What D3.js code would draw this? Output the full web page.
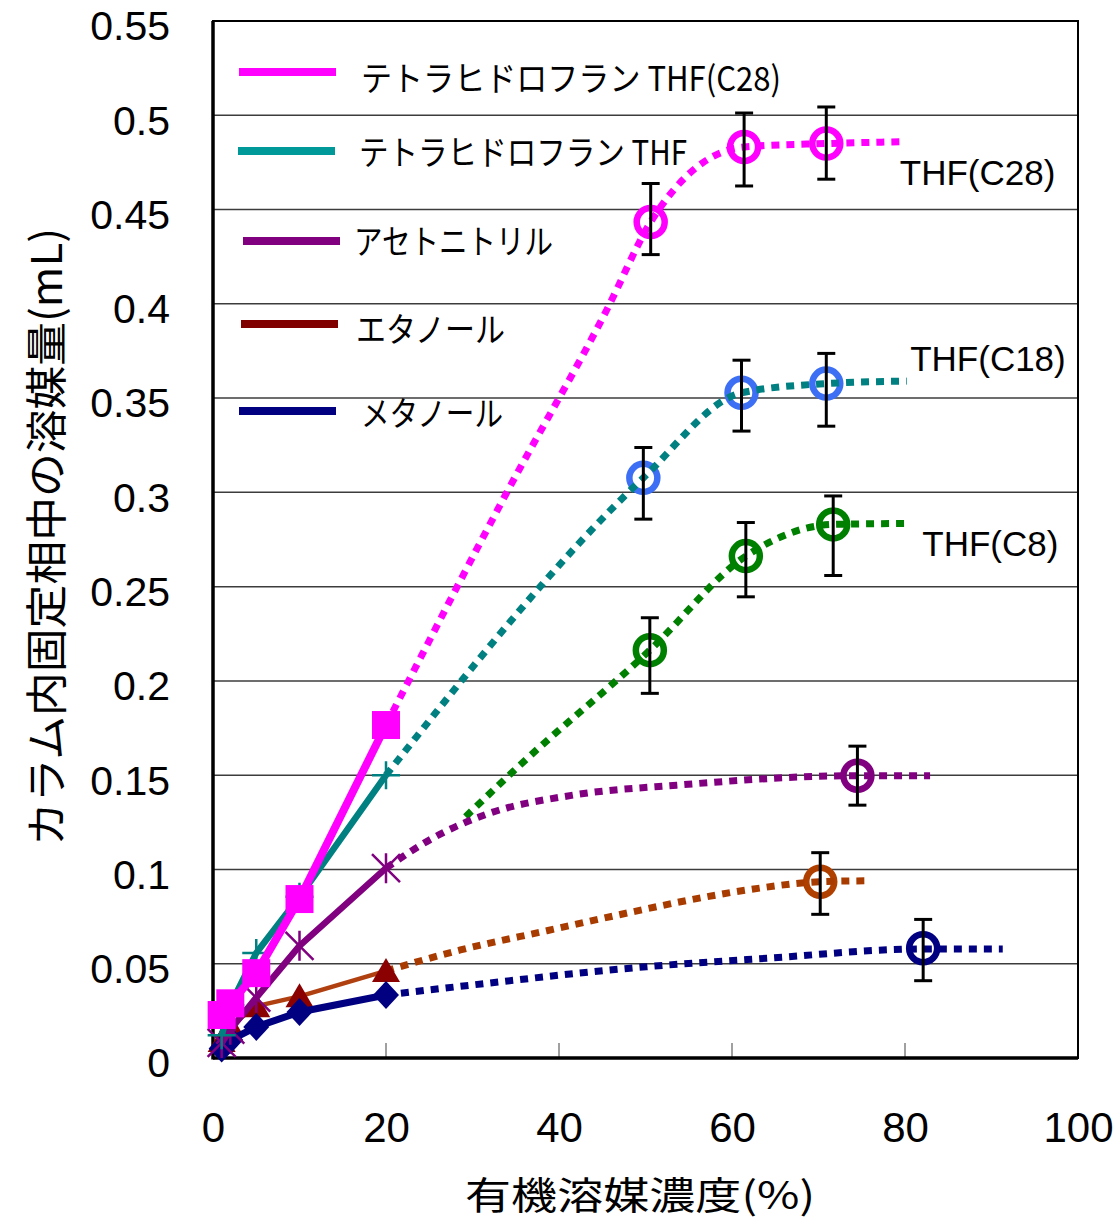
<!DOCTYPE html>
<html><head><meta charset="utf-8">
<script src="https://cdn.jsdelivr.net/npm/d3@7"></script>
<style>
html,body{margin:0;padding:0;background:#fff;}
svg{display:block;}
</style></head>
<body>
<svg id="chart" width="1120" height="1218"></svg>
<script>
// ---------- data ----------
const xTicks = [0, 20, 40, 60, 80, 100];
const yTicks = [0, 0.05, 0.1, 0.15, 0.2, 0.25, 0.3, 0.35, 0.4, 0.45, 0.5, 0.55];
const yTickLabels = ["0","0.05","0.1","0.15","0.2","0.25","0.3","0.35","0.4","0.45","0.5","0.55"];

// measured points (organic solvent %, mL) – solid segments
const xPct = [1, 2, 5, 10, 20];
const thfC28Solid = [0.0228, 0.029, 0.045, 0.0843, 0.1766];
const thfSolid    = [0.012, 0.028, 0.0557, 0.0855, 0.150];
const acnSolid    = [0.008, 0.015, 0.032, 0.0595, 0.1007];
const etohSolid   = [0.009, 0.017, 0.0275, 0.0327, 0.0462];
const meohSolid   = [0.005, 0.0095, 0.0165, 0.0244, 0.0334];

// dotted (smoothed) curves: [x, value]
const c28Curve = [[20,0.1766],[33.9,0.2994],[45.5,0.3966],[50.6,0.4434],[61.4,0.4832],[70.9,0.485],[80,0.486]];
const c18Curve = [[20,0.150],[49.75,0.3077],[61.1,0.3528],[70.9,0.3577],[80.2,0.359]];
const c8Curve  = [[29.2,0.128],[35.5,0.1554],[50.5,0.2163],[61.6,0.2662],[71.7,0.283],[80.2,0.2835]];
const acnCurve = [[20,0.1007],[25.4,0.1166],[31.7,0.1294],[41.6,0.1394],[53.6,0.1447],[74.5,0.1497],[82.9,0.1497]];
const etohCurve= [[20,0.0462],[28.6,0.0573],[38.6,0.0675],[48.6,0.0776],[55.1,0.0838],[61.7,0.0891],[70.2,0.0935],[75.6,0.094]];
const meohCurve= [[20,0.0334],[28.2,0.0378],[35.1,0.0414],[42.0,0.0449],[50.1,0.0484],[64.0,0.0529],[82.1,0.0578],[91.3,0.0578]];

// circle points with error bars: x, value, low, high
const c28X = [50.6, 61.4, 70.9], c28Y = [0.4434, 0.4832, 0.4850], c28Lo = [0.4261, 0.4625, 0.4661], c28Hi = [0.4638, 0.5012, 0.5044];
const c18X = [49.75, 61.1, 70.9], c18Y = [0.3077, 0.3528, 0.3577], c18Lo = [0.2858, 0.3325, 0.3351], c18Hi = [0.3238, 0.3701, 0.3737];
const c8X  = [50.5, 61.6, 71.7],  c8Y  = [0.2163, 0.2662, 0.2830], c8Lo  = [0.1934, 0.2446, 0.2559], c8Hi  = [0.2335, 0.2840, 0.2981];
const acnX = [74.5], acnY = [0.1497], acnLo = [0.1341], acnHi = [0.1654];
const etohX = [70.2], etohY = [0.0935], etohLo = [0.0762], etohHi = [0.1089];
const meohX = [82.1], meohY = [0.0582], meohLo = [0.041], meohHi = [0.0735];

const legendLabels = ["テトラヒドロフラン THF(C28)", "テトラヒドロフラン THF", "アセトニトリル", "エタノール", "メタノール"];
const curveLabels = ["THF(C28)", "THF(C18)", "THF(C8)"];
const curveLabelX = [79.4, 80.6, 82.0];
const curveLabelY = [0.4698, 0.3712, 0.2731];

// ---------- setup ----------
const svg = d3.select("#chart");
const x = d3.scaleLinear().domain([0, 100]).range([213, 1078]);
const y = d3.scaleLinear().domain([0, 0.55]).range([1058, 21]);
const NUM_FONT = "'Liberation Sans', Arial, sans-serif";
const JP_FONT = "'Noto Sans CJK JP', 'Noto Sans', sans-serif";

// gridlines
svg.append("g").selectAll("line").data(yTicks.filter(v => v > 0 && v < 0.55)).join("line")
  .attr("x1", x(0)).attr("x2", x(100)).attr("y1", d => y(d)).attr("y2", d => y(d))
  .attr("stroke", "#3c3c3c").attr("stroke-width", 1.5);

// x tick marks (inside)
svg.append("g").selectAll("line").data(xTicks.filter(v => v > 0 && v < 100)).join("line")
  .attr("x1", d => x(d)).attr("x2", d => x(d)).attr("y1", y(0)).attr("y2", y(0) - 15)
  .attr("stroke", "#808080").attr("stroke-width", 1.5);

// frame
svg.append("rect").attr("x", x(0)).attr("y", y(0.55)).attr("width", x(100) - x(0)).attr("height", y(0) - y(0.55))
  .attr("fill", "none").attr("stroke", "#000").attr("stroke-width", 2);
svg.append("line").attr("x1", x(0)).attr("x2", x(0)).attr("y1", y(0.55)).attr("y2", y(0) + 1.5).attr("stroke", "#000").attr("stroke-width", 3.5);
svg.append("line").attr("x1", x(0)).attr("x2", x(100)).attr("y1", y(0)).attr("y2", y(0)).attr("stroke", "#000").attr("stroke-width", 3.5);

// axes (labels)
const yAxis = d3.axisLeft(y).tickValues(yTicks).tickSize(0).tickPadding(43)
  .tickFormat((d, i) => yTickLabels[i]);
const gy = svg.append("g").attr("transform", `translate(${x(0)},0)`).call(yAxis);
gy.select(".domain").remove();
gy.selectAll("text").attr("font-family", NUM_FONT).attr("font-size", 41).attr("fill", "#000").attr("dy", "0.46em");

const xAxis = d3.axisBottom(x).tickValues(xTicks).tickSize(0).tickPadding(54);
const gx = svg.append("g").attr("transform", `translate(0,${y(0)})`).call(xAxis);
gx.select(".domain").remove();
gx.selectAll("text").attr("font-family", NUM_FONT).attr("font-size", 42).attr("fill", "#000");

// axis titles
svg.append("text").attr("transform", "translate(43,537) rotate(-90)")
  .attr("text-anchor", "middle").attr("dominant-baseline", "central")
  .attr("font-family", JP_FONT).attr("font-size", 42)
  .attr("textLength", 618).attr("lengthAdjust", "spacingAndGlyphs")
  .text("カラム内固定相中の溶媒量(mL)");
svg.append("text").attr("x", 640).attr("y", 1192)
  .attr("text-anchor", "middle").attr("dominant-baseline", "central")
  .attr("font-family", JP_FONT).attr("font-size", 38)
  .attr("textLength", 350).attr("lengthAdjust", "spacingAndGlyphs")
  .text("有機溶媒濃度(%)");

// ---------- series ----------
const curveGen = d3.line().x(d => x(d[0])).y(d => y(d[1])).curve(d3.curveMonotoneX);
const circleSets = [
  {xs: c28X, ys: c28Y, lo: c28Lo, hi: c28Hi, color: "#ff00ff"},
  {xs: c18X, ys: c18Y, lo: c18Lo, hi: c18Hi, color: "#3d6ff5"},
  {xs: c8X,  ys: c8Y,  lo: c8Lo,  hi: c8Hi,  color: "#008000"},
  {xs: acnX, ys: acnY, lo: acnLo, hi: acnHi, color: "#800080"},
  {xs: etohX, ys: etohY, lo: etohLo, hi: etohHi, color: "#b04000"},
  {xs: meohX, ys: meohY, lo: meohLo, hi: meohHi, color: "#000080"}
];
const curves = [
  {pts: c28Curve, color: "#ff00ff"},
  {pts: c18Curve, color: "#008080"},
  {pts: c8Curve, color: "#008000"},
  {pts: acnCurve, color: "#800080"},
  {pts: etohCurve, color: "#a83c00"},
  {pts: meohCurve, color: "#000080"}
];

// circles
circleSets.forEach(s => {
  svg.append("g").selectAll("circle").data(s.xs).join("circle")
    .attr("cx", d => x(d)).attr("cy", (d, i) => y(s.ys[i])).attr("r", 14)
    .attr("fill", "none").attr("stroke", s.color).attr("stroke-width", 6.5);
});

// dotted curves
curves.forEach(c => {
  svg.append("path").attr("d", curveGen(c.pts)).attr("fill", "none")
    .attr("stroke", c.color).attr("stroke-width", 7).attr("stroke-dasharray", "8,7");
});

// error bars
circleSets.forEach(s => {
  const g = svg.append("g").attr("stroke", "#000").attr("stroke-width", 3);
  s.xs.forEach((xv, i) => {
    const cx = x(xv);
    g.append("line").attr("x1", cx).attr("x2", cx).attr("y1", y(s.lo[i])).attr("y2", y(s.hi[i]));
    g.append("line").attr("x1", cx - 9).attr("x2", cx + 9).attr("y1", y(s.lo[i])).attr("y2", y(s.lo[i]));
    g.append("line").attr("x1", cx - 9).attr("x2", cx + 9).attr("y1", y(s.hi[i])).attr("y2", y(s.hi[i]));
  });
});

// solid lines + markers
const solidLine = d3.line().x((d, i) => x(xPct[i])).y(d => y(d));
function drawSolid(vals, color, width) {
  svg.append("path").attr("d", solidLine(vals)).attr("fill", "none")
    .attr("stroke", color).attr("stroke-width", width).attr("stroke-linejoin", "round");
}
// ethanol
drawSolid(etohSolid, "#b04010", 4.5);
svg.append("g").selectAll("path").data(etohSolid).join("path")
  .attr("transform", (d, i) => `translate(${x(xPct[i])},${y(d)})`)
  .attr("d", "M0,-13 L14,11 L-14,11 Z").attr("fill", "#8b0000");
// methanol
drawSolid(meohSolid, "#000080", 7);
svg.append("g").selectAll("path").data(meohSolid).join("path")
  .attr("transform", (d, i) => `translate(${x(xPct[i])},${y(d)})`)
  .attr("d", "M0,-14 L13,0 L0,14 L-13,0 Z").attr("fill", "#000080");
// acetonitrile
drawSolid(acnSolid, "#800080", 6.5);
svg.append("g").selectAll("path").data(acnSolid).join("path")
  .attr("transform", (d, i) => `translate(${x(xPct[i])},${y(d)})`)
  .attr("d", "M-14,-14 L14,14 M-14,14 L14,-14 M0,-15 L0,15").attr("fill", "none")
  .attr("stroke", "#800080").attr("stroke-width", 2.5);
// THF
drawSolid(thfSolid, "#008080", 6.5);
svg.append("g").selectAll("path").data(thfSolid).join("path")
  .attr("transform", (d, i) => `translate(${x(xPct[i])},${y(d)})`)
  .attr("d", "M-14,0 L14,0 M0,-14 L0,14").attr("fill", "none")
  .attr("stroke", "#008080").attr("stroke-width", 2.5);
// THF(C28)
drawSolid(thfC28Solid, "#ff00ff", 8);
svg.append("g").selectAll("rect").data(thfC28Solid).join("rect")
  .attr("x", (d, i) => x(xPct[i]) - 14).attr("y", d => y(d) - 14)
  .attr("width", 28).attr("height", 28).attr("fill", "#ff00ff");

// curve labels
svg.append("g").selectAll("text").data(curveLabels).join("text")
  .attr("x", (d, i) => x(curveLabelX[i])).attr("y", (d, i) => y(curveLabelY[i]))
  .attr("dominant-baseline", "central")
  .attr("font-family", NUM_FONT).attr("font-size", 35).attr("fill", "#000")
  .text(d => d);

// ---------- legend ----------
const legColors = ["#ff00ff", "#009999", "#800080", "#800000", "#000080"];
const legLineX = [239, 238, 243, 241, 239];
const legLineY = [72, 151, 241, 324, 411];
const legTextX = [361, 359, 354, 356, 361];
const legTextY = [76, 150, 239, 327, 411];
const legTextLen = [420, 328, 199, 149, 142];
const leg = svg.append("g");
legendLabels.forEach((lab, i) => {
  leg.append("line").attr("x1", legLineX[i]).attr("x2", legLineX[i] + 97)
    .attr("y1", legLineY[i]).attr("y2", legLineY[i])
    .attr("stroke", legColors[i]).attr("stroke-width", 8);
  leg.append("text").attr("x", legTextX[i]).attr("y", legTextY[i])
    .attr("dominant-baseline", "central")
    .attr("font-family", JP_FONT).attr("font-size", 34).attr("fill", "#000")
    .attr("textLength", legTextLen[i]).attr("lengthAdjust", "spacingAndGlyphs")
    .text(lab);
});
</script>
</body></html>
